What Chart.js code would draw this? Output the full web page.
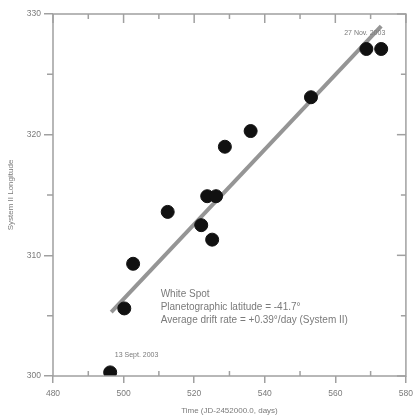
<!DOCTYPE html>
<html>
<head>
<meta charset="utf-8">
<script src="https://cdn.jsdelivr.net/npm/chart.js@4/dist/chart.umd.min.js"></script>
<style>
  html, body { margin: 0; padding: 0; background: #fff; }
  #wrap { width: 419px; height: 416px; }
</style>
</head>
<body>
<div id="wrap"><canvas id="myChart" width="419" height="416"></canvas></div>
<script>
// Observed White Spot positions (day, System II longitude)
var days = [496.2, 500.2, 502.7, 512.5, 522.0, 523.7, 525.1, 526.2, 528.7, 536.0, 553.1, 568.8, 573.0];
var longitudes = [300.3, 305.6, 309.3, 313.6, 312.5, 314.9, 311.3, 314.9, 319.0, 320.3, 323.1, 327.1, 327.1];

// Fitted drift line ends
var fitDays = [496.5, 573.0];
var fitLongitudes = [305.3, 329.0];

var xTicks = [480, 500, 520, 540, 560, 580];
var yTicks = [300, 310, 320, 330];

var axisGrey = '#a0a0a0';
var textGrey = '#7a7a7a';
var fontFam = '"Liberation Sans", Arial, sans-serif';

var points = days.map(function (d, i) { return { x: d, y: longitudes[i] }; });
var fitLine = fitDays.map(function (d, i) { return { x: d, y: fitLongitudes[i] }; });

// box, minor ticks and inner ticks on top/right, plus the notes
var framePlugin = {
    id: 'frame',
    afterDraw: function (chart) {
        var c = chart.ctx;
        var a = chart.chartArea;
        var xs = chart.scales.x, ys = chart.scales.y;
        c.save();
        c.strokeStyle = axisGrey;
        c.lineWidth = 1.5;
        c.strokeRect(a.left, a.top, a.right - a.left, a.bottom - a.top);
        // x minor + top ticks
        for (var v = 480; v <= 580; v += 10) {
            var px = xs.getPixelForValue(v);
            var major = (v % 20 === 0);
            c.beginPath();
            if (!major) {
                c.moveTo(px, a.bottom - 5);
                c.lineTo(px, a.bottom);
            }
            c.moveTo(px, a.top);
            c.lineTo(px, a.top + (major ? 9 : 5));
            c.stroke();
        }
        // y minor + right ticks
        for (var w = 300; w <= 330; w += 5) {
            var py = ys.getPixelForValue(w);
            var maj = (w % 10 === 0);
            c.beginPath();
            if (!maj) {
                c.moveTo(a.left - 6, py);
                c.lineTo(a.left, py);
            }
            c.moveTo(a.right, py);
            c.lineTo(a.right - (maj ? 9 : 5), py);
            c.stroke();
        }
        c.fillStyle = textGrey;
        c.font = '7px ' + fontFam;
        c.textBaseline = 'middle';
        c.textAlign = 'left';
        c.fillText('13 Sept. 2003', xs.getPixelForValue(497.5), ys.getPixelForValue(301.7));
        c.fillText('27 Nov. 2003', xs.getPixelForValue(562.5), ys.getPixelForValue(328.4));
        c.font = '10px ' + fontFam;
        var tx = xs.getPixelForValue(510.5);
        c.fillText('White Spot', tx, ys.getPixelForValue(306.8));
        c.fillText('Planetographic latitude = -41.7\u00b0', tx, ys.getPixelForValue(305.7));
        c.fillText('Average drift rate = +0.39\u00b0/day (System II)', tx, ys.getPixelForValue(304.6));
        c.restore();
    }
};

const ctx = document.getElementById('myChart').getContext('2d');
const config = {
    type: 'scatter',
    data: {
        datasets: [{
            data: points,
            backgroundColor: '#111',
            borderColor: '#111',
            pointRadius: 6.5,
            pointHoverRadius: 6.5,
            order: 1
        }, {
            type: 'line',
            data: fitLine,
            borderColor: '#959595',
            borderWidth: 4,
            pointRadius: 0,
            fill: false,
            order: 2
        }]
    },
    plugins: [framePlugin],
    options: {
        responsive: false,
        animation: false,
        layout: { padding: { top: 14, right: 7, left: 6, bottom: 0 } },
        plugins: {
            legend: false,
            tooltip: { enabled: false }
        },
        scales: {
            x: {
                type: 'linear',
                min: 480,
                max: 580,
                afterBuildTicks: function (s) { s.ticks = xTicks.map(function (v) { return { value: v }; }); },
                afterFit: function (s) { s.height = 40; },
                border: { display: false },
                grid: { drawOnChartArea: false, color: axisGrey, lineWidth: 1.5, tickLength: 7 },
                ticks: { color: textGrey, font: { size: 8.5, family: fontFam }, padding: 6, maxRotation: 0 },
                title: {
                    display: true,
                    text: 'Time (JD-2452000.0, days)',
                    color: textGrey,
                    font: { size: 8, family: fontFam },
                    padding: { top: 0, bottom: 0 }
                }
            },
            y: {
                min: 300,
                max: 330,
                afterBuildTicks: function (s) { s.ticks = yTicks.map(function (v) { return { value: v }; }); },
                afterFit: function (s) { s.width = 47; },
                border: { display: false },
                grid: { drawOnChartArea: false, color: axisGrey, lineWidth: 1.5, tickLength: 9 },
                ticks: { color: textGrey, font: { size: 8.5, family: fontFam }, padding: 3 },
                title: {
                    display: true,
                    text: 'System II Longitude',
                    color: textGrey,
                    font: { size: 8, family: fontFam },
                    padding: { top: 0, bottom: 2 }
                }
            }
        }
    }
};

const myChart = new Chart(ctx, config);
</script>
</body>
</html>
